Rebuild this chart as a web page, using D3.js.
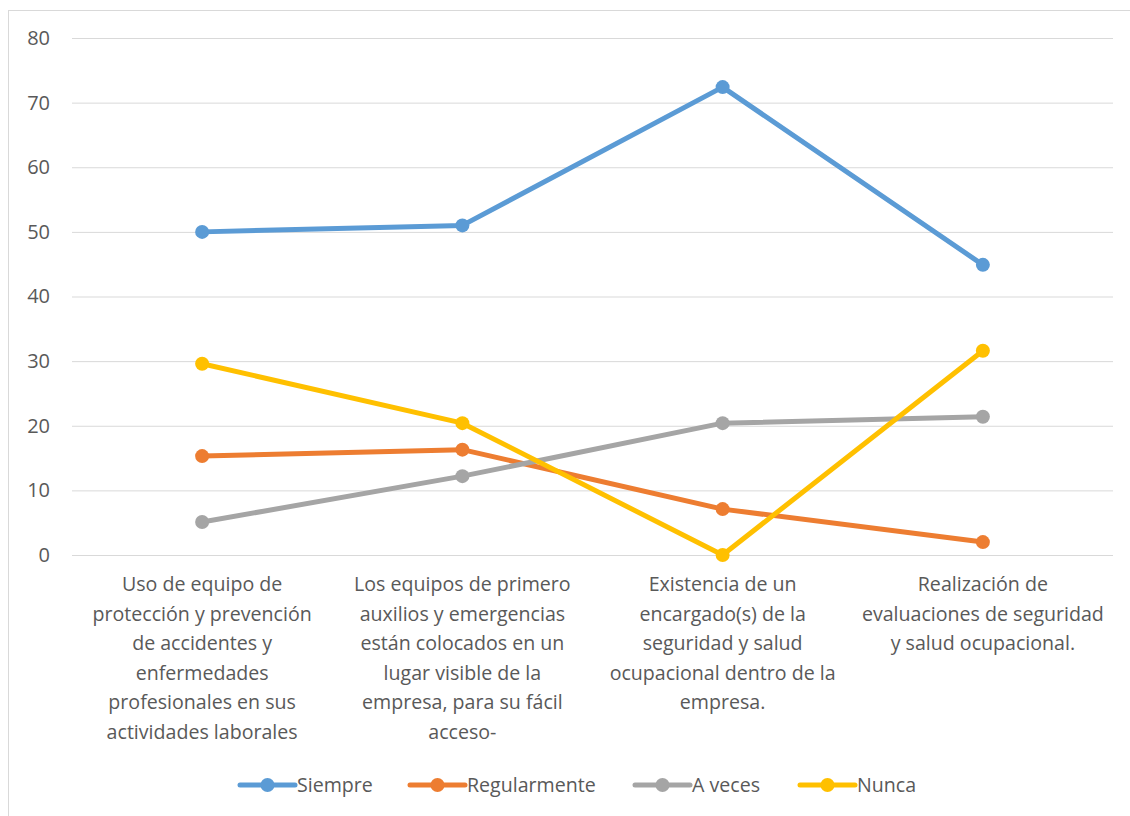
<!DOCTYPE html>
<html lang="es">
<head>
<meta charset="UTF-8">
<title>Seguridad y salud ocupacional</title>
<script src="https://d3js.org/d3.v7.min.js"></script>
<style>
  body { margin: 0; background: #ffffff; }
  text { font-family: "Open Sans", "Liberation Sans", sans-serif; fill: #595959; }
</style>
</head>
<body>
<div id="chart"></div>
<script>
// categories, one line of text per entry
var categories = [
  ["Uso de equipo de", "protección y prevención", "de accidentes y", "enfermedades", "profesionales en sus", "actividades laborales"],
  ["Los equipos de primero", "auxilios y emergencias", "están colocados en un", "lugar visible de la", "empresa, para su fácil", "acceso-"],
  ["Existencia de un", "encargado(s) de la", "seguridad y salud", "ocupacional dentro de la", "empresa."],
  ["Realización de", "evaluaciones de seguridad", "y salud ocupacional."]
];
var seriesNames = ["Siempre", "Regularmente", "A veces", "Nunca"];
var siempre = [50, 51, 72.4, 44.9];
var regularmente = [15.3, 16.3, 7.1, 2];
var aVeces = [5.1, 12.2, 20.4, 21.4];
var nunca = [29.6, 20.4, 0, 31.6];
var yTicks = [0, 10, 20, 30, 40, 50, 60, 70, 80];
var colors = ["#5b9bd5", "#ed7d31", "#a5a5a5", "#ffc000"];

var W = 1130, H = 816;
var margin = {left: 72, right: 17, top: 38, bottom: 261};

var svg = d3.select("#chart").append("svg")
  .attr("width", W).attr("height", H);

// outer frame
svg.append("rect")
  .attr("x", 8.5).attr("y", 10.5)
  .attr("width", W + 10).attr("height", H + 10)
  .attr("fill", "none").attr("stroke", "#d9d9d9");

var x = d3.scaleBand()
  .domain(d3.range(categories.length))
  .range([margin.left, W - margin.right]);

var y = d3.scaleLinear()
  .domain([0, 80])
  .range([H - margin.bottom, margin.top]);

// gridlines + y labels
var yAxis = svg.append("g")
  .attr("transform", "translate(" + margin.left + ",0)")
  .call(d3.axisLeft(y).tickValues(yTicks)
    .tickSize(-(W - margin.left - margin.right)).tickPadding(22));
yAxis.select(".domain").remove();
yAxis.selectAll(".tick line").attr("stroke", "#d9d9d9").attr("stroke-width", 1);
yAxis.selectAll(".tick text")
  .style("font-size", "20px").attr("fill", "#595959")
  .style("font-family", "'Open Sans', 'Liberation Sans', sans-serif");

// category labels
var catG = svg.append("g");
categories.forEach(function(lines, i) {
  var t = catG.append("text")
    .attr("text-anchor", "middle")
    .style("font-size", "19.6px");
  lines.forEach(function(l, j) {
    t.append("tspan")
      .attr("x", x(i) + x.bandwidth() / 2)
      .attr("y", 591 + j * 29.6)
      .text(l);
  });
});

var allSeries = [siempre, regularmente, aVeces, nunca];
var cx = function(d, i) { return x(i) + x.bandwidth() / 2; };
var line = d3.line().x(cx).y(function(d) { return y(d); });

allSeries.forEach(function(vals, s) {
  var g = svg.append("g");
  g.append("path")
    .datum(vals)
    .attr("d", line)
    .attr("fill", "none")
    .attr("stroke", colors[s])
    .attr("stroke-width", 5)
    .attr("stroke-linejoin", "round")
    .attr("stroke-linecap", "round");
  g.selectAll("circle").data(vals).enter().append("circle")
    .attr("cx", cx)
    .attr("cy", function(d) { return y(d); })
    .attr("r", 7)
    .attr("fill", colors[s]);
});

// legend
var legendX = [240, 410, 635, 800];
var legY = 785;
seriesNames.forEach(function(name, s) {
  var g = svg.append("g").attr("transform", "translate(" + legendX[s] + "," + legY + ")");
  g.append("line").attr("x1", 0).attr("x2", 55).attr("y1", 0).attr("y2", 0)
    .attr("stroke", colors[s]).attr("stroke-width", 5).attr("stroke-linecap", "round");
  g.append("circle").attr("cx", 27.5).attr("cy", 0).attr("r", 7).attr("fill", colors[s]);
  g.append("text").attr("x", 57).attr("y", 7)
    .style("font-size", "19.6px").text(name);
});
</script>
</body>
</html>
